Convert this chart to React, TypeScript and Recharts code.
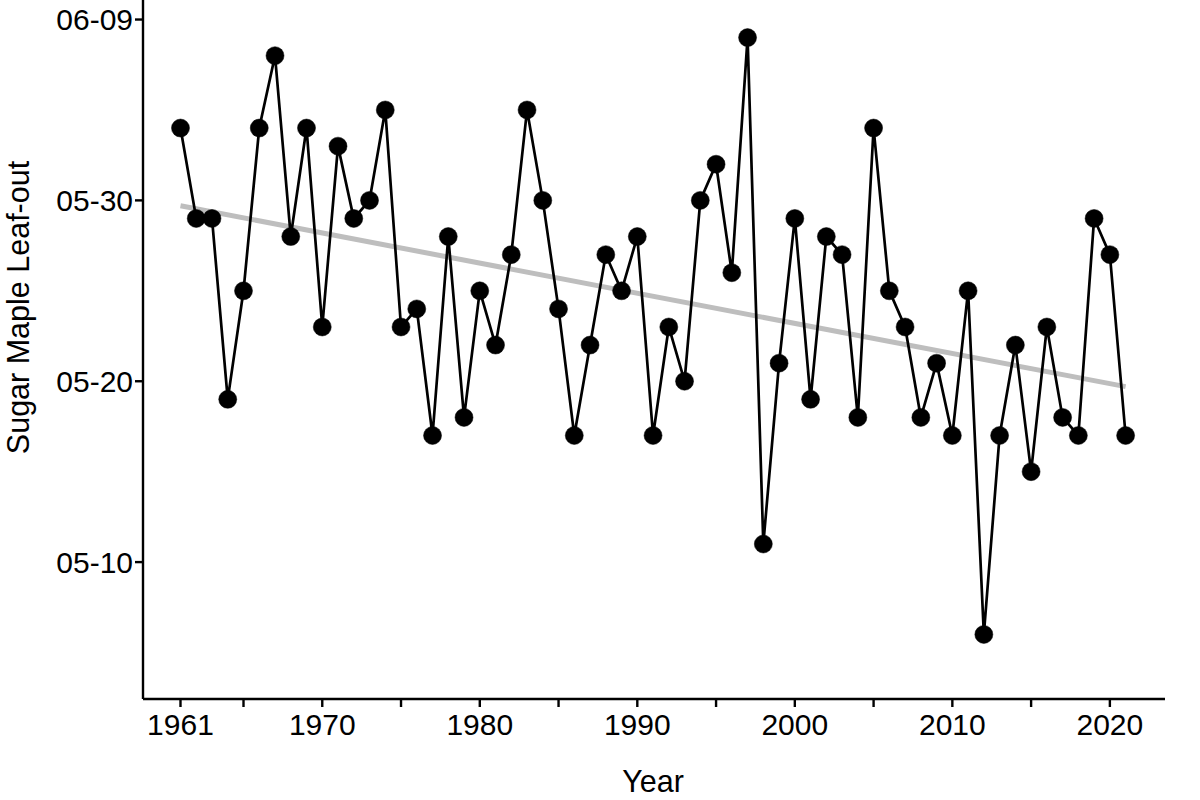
import { ComposedChart, Line, XAxis, YAxis } from "recharts";

const years = [
  1961, 1962, 1963, 1964, 1965, 1966, 1967, 1968, 1969, 1970, 1971, 1972, 1973, 1974, 1975, 1976,
  1977, 1978, 1979, 1980, 1981, 1982, 1983, 1984, 1985, 1986, 1987, 1988, 1989, 1990, 1991, 1992,
  1993, 1994, 1995, 1996, 1997, 1998, 1999, 2000, 2001, 2002, 2003, 2004, 2005, 2006, 2007, 2008,
  2009, 2010, 2011, 2012, 2013, 2014, 2015, 2016, 2017, 2018, 2019, 2020, 2021,
];
// leaf-out as day counted from May 1 = 1 (so 40 is 06-09)
const leafOut = [
  34, 29, 29, 19, 25, 34, 38, 28, 34, 23, 33, 29, 30, 35, 23, 24,
  17, 28, 18, 25, 22, 27, 35, 30, 24, 17, 22, 27, 25, 28, 17, 23,
  20, 30, 32, 26, 39, 11, 21, 29, 19, 28, 27, 18, 34, 25, 23, 18,
  21, 17, 25, 6, 17, 22, 15, 23, 18, 17, 29, 27, 17,
];
const trendYears = [1961, 2021];
const trendValues = [29.7, 19.7];

const xTicks = [1961, 1965, 1970, 1975, 1980, 1985, 1990, 1995, 2000, 2005, 2010, 2015, 2020];
const xLabelled = [1961, 1970, 1980, 1990, 2000, 2010, 2020];
const yTicks = [10, 20, 30, 40];
const yLabels = ["05-10", "05-20", "05-30", "06-09"];

const points = years.map((year, i) => ({ year, leafOut: leafOut[i] }));
const trend = trendYears.map((year, i) => ({ year, fit: trendValues[i] }));

const font = "'Liberation Sans', Arial, sans-serif";
const tickStyle = { fontSize: 30, fontFamily: font, fill: "#000" };
const titleStyle = { fontSize: 30.5, fontFamily: font, fill: "#000" };
const axisLine = { stroke: "#000", strokeWidth: 2.4 };
const tickLine = { stroke: "#000", strokeWidth: 2.4 };

export default function App() {
  return (
    <div style={{ position: "absolute", left: 0, top: 0, width: 1200, height: 800, background: "#fff" }}>
      <ComposedChart
        width={1200}
        height={800}
        data={points}
        margin={{ top: 0, right: 35, bottom: 0, left: 0 }}
      >
        <XAxis
          dataKey="year"
          type="number"
          domain={[1958.62, 2023.5]}
          ticks={xTicks}
          interval={0}
          allowDataOverflow
          height={101}
          tickSize={8}
          tickMargin={7}
          axisLine={axisLine}
          tickLine={tickLine}
          tick={tickStyle}
          tickFormatter={(v: number) => (xLabelled.includes(v) ? String(v) : "")}
          label={{ value: "Year", position: "insideBottom", offset: 8, dx: -1, style: titleStyle }}
        />
        <YAxis
          type="number"
          domain={[2.43, 41.08]}
          ticks={yTicks}
          interval={0}
          allowDataOverflow
          width={143}
          tickSize={8}
          tickMargin={2}
          axisLine={axisLine}
          tickLine={tickLine}
          tick={tickStyle}
          tickFormatter={(v: number) => yLabels[yTicks.indexOf(v)]}
          label={{
            value: "Sugar Maple Leaf-out",
            angle: -90,
            position: "insideLeft",
            offset: 5,
            dx: 13,
            dy: -42,
            style: { ...titleStyle, textAnchor: "middle" },
          }}
        />
        <Line
          data={trend}
          dataKey="fit"
          stroke="#bebebe"
          strokeWidth={5}
          dot={false}
          activeDot={false}
          isAnimationActive={false}
        />
        <Line
          dataKey="leafOut"
          stroke="#000"
          strokeWidth={2.7}
          dot={{ r: 9, fill: "#000", stroke: "#000", strokeWidth: 0.5 }}
          activeDot={false}
          isAnimationActive={false}
        />
      </ComposedChart>
    </div>
  );
}
